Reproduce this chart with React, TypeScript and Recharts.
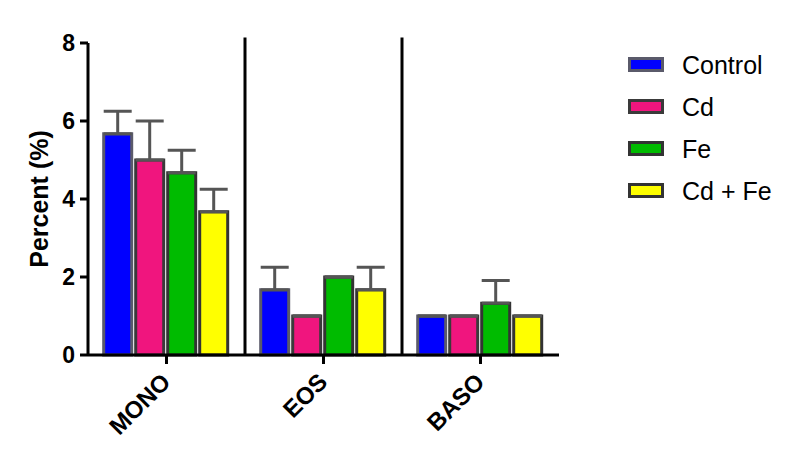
import React from 'react'
import { BarChart, Bar, XAxis, YAxis, ErrorBar, ReferenceLine, Legend } from 'recharts'

const categories = ['MONO', 'EOS', 'BASO']
const seriesNames = ['Control', 'Cd', 'Fe', 'Cd + Fe']
const control = [5.67, 1.67, 1.0]
const cd = [5.0, 1.0, 1.0]
const fe = [4.67, 2.0, 1.33]
const cdFe = [3.67, 1.67, 1.0]
const controlErr = [0.58, 0.58, 0]
const cdErr = [1.0, 0, 0]
const feErr = [0.58, 0, 0.58]
const cdFeErr = [0.58, 0.58, 0]
const yTicks = [0, 2, 4, 6, 8]
const separators = [1, 2]

const keys = ['control', 'cd', 'fe', 'cdFe']
const fills = ['#0000FF', '#F0157E', '#00BB00', '#FFFF00']
const strokes = ['#5a5a6a', '#3a3a3a', '#333333', '#333333']

const data = categories.map((name, i) => ({
  name,
  control: control[i],
  cd: cd[i],
  fe: fe[i],
  cdFe: cdFe[i],
  controlErr: [0, controlErr[i]],
  cdErr: [0, cdErr[i]],
  feErr: [0, feErr[i]],
  cdFeErr: [0, cdFeErr[i]],
}))

const font = '"Liberation Sans", Arial, sans-serif'

function XTick({ x, y, payload }: any) {
  const px = x - 7
  const py = y + 5
  return (
    <text
      x={px}
      y={py}
      transform={`rotate(-45, ${px}, ${py})`}
      textAnchor="end"
      dominantBaseline="hanging"
      fontFamily={font}
      fontWeight="bold"
      fontSize={24}
      fill="#000"
    >
      {payload.value}
    </text>
  )
}

function YTick({ x, y, payload }: any) {
  return (
    <text
      x={x}
      y={y}
      textAnchor="end"
      dominantBaseline="central"
      fontFamily={font}
      fontWeight="bold"
      fontSize={23}
      fill="#000"
    >
      {payload.value}
    </text>
  )
}

function LegendBox() {
  return (
    <div style={{ fontFamily: font }}>
      {seriesNames.map((s, i) => (
        <div key={s} style={{ display: 'flex', alignItems: 'center', height: 42 }}>
          <svg width={36} height={16} style={{ marginRight: 18 }}>
            <rect x={1.5} y={1.5} width={33} height={12} fill={fills[i]} stroke={strokes[i]} strokeWidth={3} />
          </svg>
          <span style={{ fontSize: 25, color: '#000' }}>{s}</span>
        </div>
      ))}
    </div>
  )
}

export default function App() {
  return (
    <div style={{ position: 'absolute', left: 0, top: 0, background: '#fff' }}>
      <BarChart
        width={800}
        height={459}
        data={data}
        margin={{ top: 43, right: 241, bottom: 44, left: 28 }}
        barCategoryGap="10%"
        barGap={4}
      >
        <XAxis
          dataKey="name"
          axisLine={{ stroke: '#000', strokeWidth: 3 }}
          tickLine={{ stroke: '#000', strokeWidth: 3 }}
          tickSize={9}
          height={60}
          tick={<XTick />}
          interval={0}
        />
        <XAxis
          xAxisId="sep"
          dataKey="sepUnused"
          type="number"
          domain={[0, categories.length]}
          allowDataOverflow
          hide
        />
        <YAxis
          domain={[0, 8]}
          ticks={yTicks}
          width={60}
          axisLine={{ stroke: '#000', strokeWidth: 3 }}
          tickLine={{ stroke: '#000', strokeWidth: 3 }}
          tickSize={8}
          tickMargin={5}
          tick={<YTick />}
          label={{
            value: 'Percent (%)',
            angle: -90,
            position: 'center',
            dx: -19,
            fontSize: 25,
            fontWeight: 'bold',
            fontFamily: font,
            fill: '#000',
          }}
        />
        {separators.map((s) => (
          <ReferenceLine
            key={s}
            xAxisId="sep"
            segment={[{ x: s, y: 0 }, { x: s, y: 8.14 }]}
            ifOverflow="visible"
            stroke="#000"
            strokeWidth={3}
          />
        ))}
        {keys.map((k, i) => (
          <Bar
            key={k}
            dataKey={k}
            name={seriesNames[i]}
            fill={fills[i]}
            stroke={strokes[i]}
            strokeWidth={3}
            isAnimationActive={false}
          >
            <ErrorBar dataKey={`${k}Err`} direction="y" width={14} stroke="#555" strokeWidth={3} />
          </Bar>
        ))}
        <Legend
          layout="horizontal"
          verticalAlign="middle"
          align="center"
          content={<LegendBox />}
          wrapperStyle={{ position: 'absolute', left: 628, top: 44, width: 172 }}
        />
      </BarChart>
    </div>
  )
}
